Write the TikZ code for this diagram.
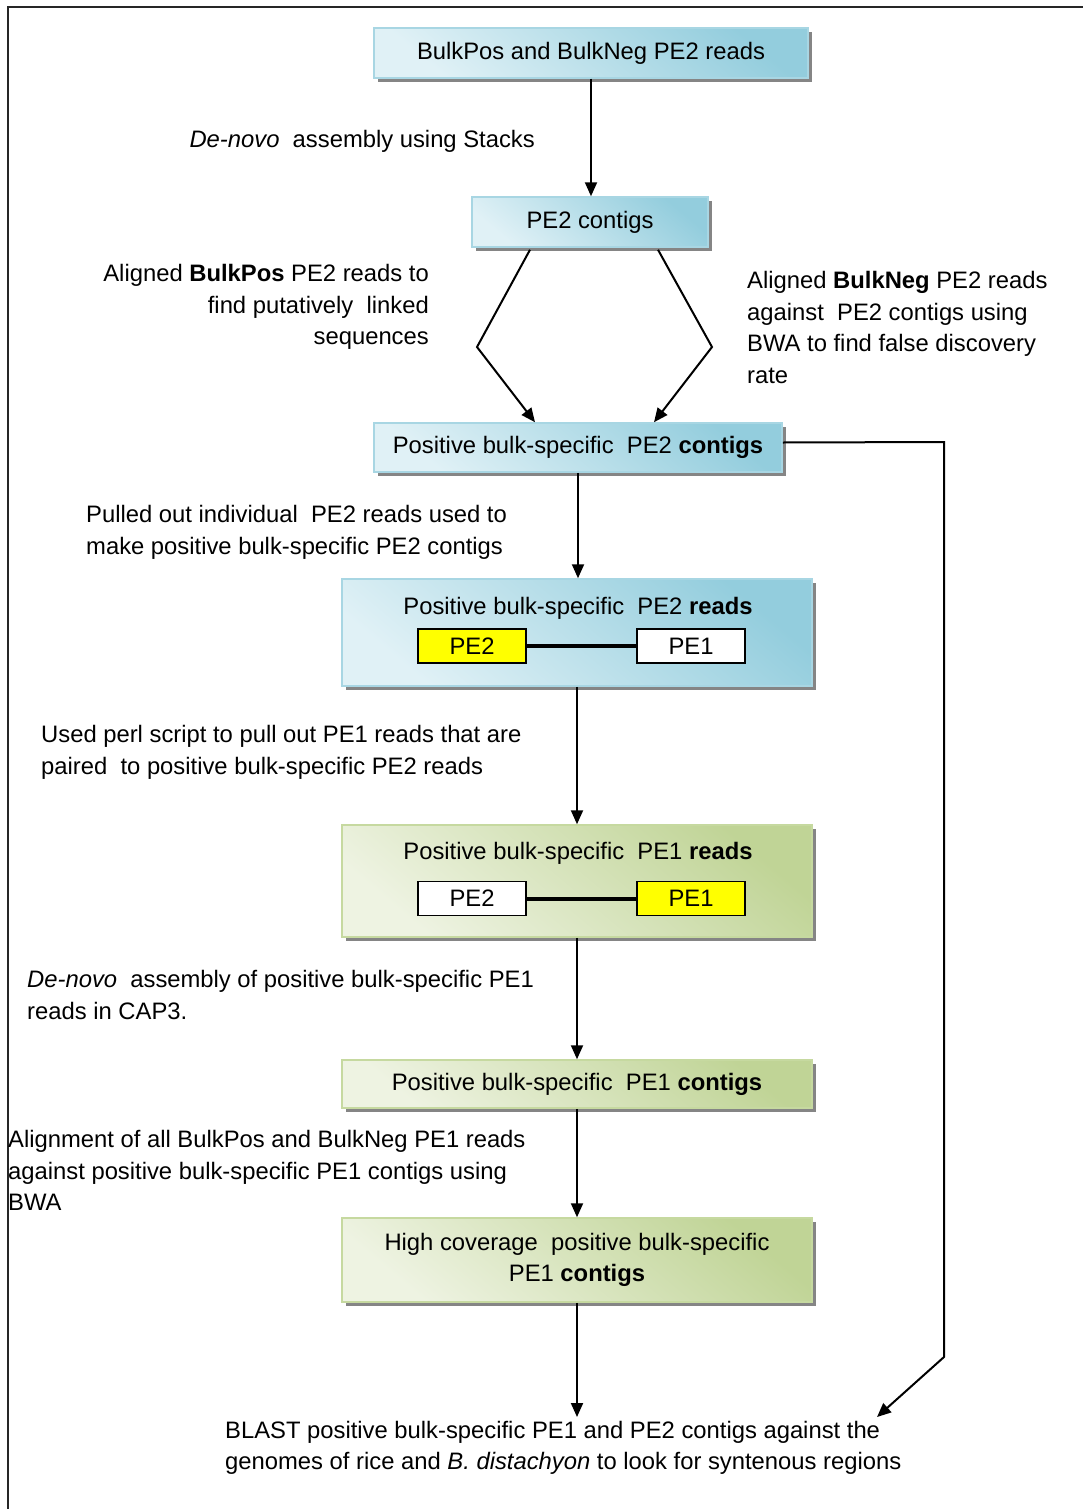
\documentclass[tikz,border=0pt]{standalone}
\usepackage{fontspec}
\setmainfont{Liberation Sans}
\usetikzlibrary{shadows,arrows.meta}

\definecolor{bluedark}{RGB}{147,205,221}
\definecolor{bluelight}{RGB}{224,241,246}
\definecolor{blueborder}{RGB}{168,214,227}
\definecolor{greendark}{RGB}{192,212,150}
\definecolor{greenlight}{RGB}{238,243,226}
\definecolor{greenborder}{RGB}{198,217,160}
\definecolor{peyellow}{RGB}{255,255,0}

\begin{document}
\begin{tikzpicture}[x=1pt,y=-1pt,
  font=\fontsize{23.8}{31.5}\selectfont,
  boxbase/.style={line width=1.5pt, inner sep=0pt, align=center,
    drop shadow={shadow xshift=4pt, shadow yshift=-4pt, fill=black!48, opacity=1}},
  bluebox/.style={boxbase, draw=blueborder, top color=bluedark, bottom color=bluelight, shading angle=-40},
  greenbox/.style={boxbase, draw=greenborder, top color=greendark, bottom color=greenlight, shading angle=-40},
  pebox/.style={draw=black, line width=1.4pt, minimum width=108pt, minimum height=34pt, inner sep=0pt},
  label/.style={inner sep=0pt},
  flow/.style={line width=2pt, -{Triangle[length=14pt,width=12pt]}},
  link/.style={line width=4pt}
]
\useasboundingbox (0,0) rectangle (1083,1509);

% frame
\draw[line width=2pt, black!85] (1083,7) -- (8,7) -- (8,1509);

% boxes
\node[bluebox, minimum width=434pt, minimum height=50pt] (b1) at (591,53) {BulkPos and BulkNeg PE2 reads};
\node[bluebox, minimum width=236pt, minimum height=50pt] (b2) at (590,222) {PE2 contigs};
\node[bluebox, minimum width=408pt, minimum height=49pt] (b3) at (578,447.5) {Positive bulk-specific\ \ PE2 \textbf{contigs}};
\node[bluebox, minimum width=470pt, minimum height=107pt] (b4) at (577,632.5) {};
\node[greenbox, minimum width=470pt, minimum height=112pt] (b5) at (577,881) {};
\node[greenbox, minimum width=470pt, minimum height=48pt] (b6) at (577,1084) {Positive bulk-specific\ \ PE1 \textbf{contigs}};
\node[greenbox, minimum width=470pt, minimum height=84pt] (b7) at (577,1260) {High coverage\ \ positive bulk-specific\\PE1 \textbf{contigs}};

% read pairs inside the two read boxes
\node[label, anchor=north] (t4) at (578,597.5) {Positive bulk-specific\ \ PE2 \textbf{reads}};
\node[pebox, fill=peyellow] (p4a) at (472,646) {PE2};
\node[pebox, fill=white] (p4b) at (691,646) {PE1};
\draw[link] (p4a.east) -- (p4b.west);

\node[label, anchor=north] (t5) at (578,842.5) {Positive bulk-specific\ \ PE1 \textbf{reads}};
\node[pebox, fill=white] (p5a) at (472,898.5) {PE2};
\node[pebox, fill=peyellow] (p5b) at (691,898.5) {PE1};
\draw[link] (p5a.east) -- (p5b.west);

% final step text
\node[inner xsep=0pt, inner ysep=4pt, anchor=north west, align=left] (blast) at (225,1417)
  {BLAST positive bulk-specific PE1 and PE2 contigs against the\\genomes of rice and \textit{B. distachyon} to look for syntenous regions};

% step labels
\node[label, anchor=north east] (l1) at (535,130.5) {\textit{De-novo}\ \ assembly using Stacks};
\node[label, anchor=north east, align=right] (l2) at (429,264.5) {Aligned \textbf{BulkPos} PE2 reads to\\find putatively\ \ linked\\sequences};
\node[label, anchor=north west, align=left] (l3) at (747,271.5) {Aligned \textbf{BulkNeg} PE2 reads\\against\ \ PE2 contigs using\\BWA to find false discovery\\rate};
\node[label, anchor=north west, align=left] (l4) at (86,505.5) {Pulled out individual\ \ PE2 reads used to\\make positive bulk-specific PE2 contigs};
\node[label, anchor=north west, align=left] (l5) at (41,725.5) {Used perl script to pull out PE1 reads that are\\paired\ \ to positive bulk-specific PE2 reads};
\node[label, anchor=north west, align=left] (l6) at (27,970.5) {\textit{De-novo}\ \ assembly of positive bulk-specific PE1\\reads in CAP3.};
\node[label, anchor=north west, align=left] (l7) at (8,1130.5) {Alignment of all BulkPos and BulkNeg PE1 reads\\against positive bulk-specific PE1 contigs using\\BWA};

% connectors
\coordinate (lk) at (477,347);
\coordinate (rk) at (712,347);
\coordinate (c1) at (944,442);
\coordinate (c2) at (944,1357);
\coordinate (c3) at (877,1417);

\draw[flow] (b1.south) -- (b1.south |- b2.north);
\draw[flow] ([xshift=-60pt,yshift=-2pt]b2.south) -- (lk) -- ([xshift=-43pt]b3.north);
\draw[flow] ([xshift=68pt,yshift=-2pt]b2.south) -- (rk) -- ([xshift=76pt]b3.north);
\draw[flow] (b3.south) -- (b3.south |- b4.north);
\draw[flow] (b4.south) -- (b4.south |- b5.north);
\draw[flow] (b5.south) -- (b5.south |- b6.north);
\draw[flow] (b6.south) -- (b6.south |- b7.north);
\draw[flow] (b7.south) -- (b7.south |- blast.north);
\draw[flow] ([yshift=5pt]b3.east) -- (c1) -- (c2) -- (c3);
\end{tikzpicture}
\end{document}
